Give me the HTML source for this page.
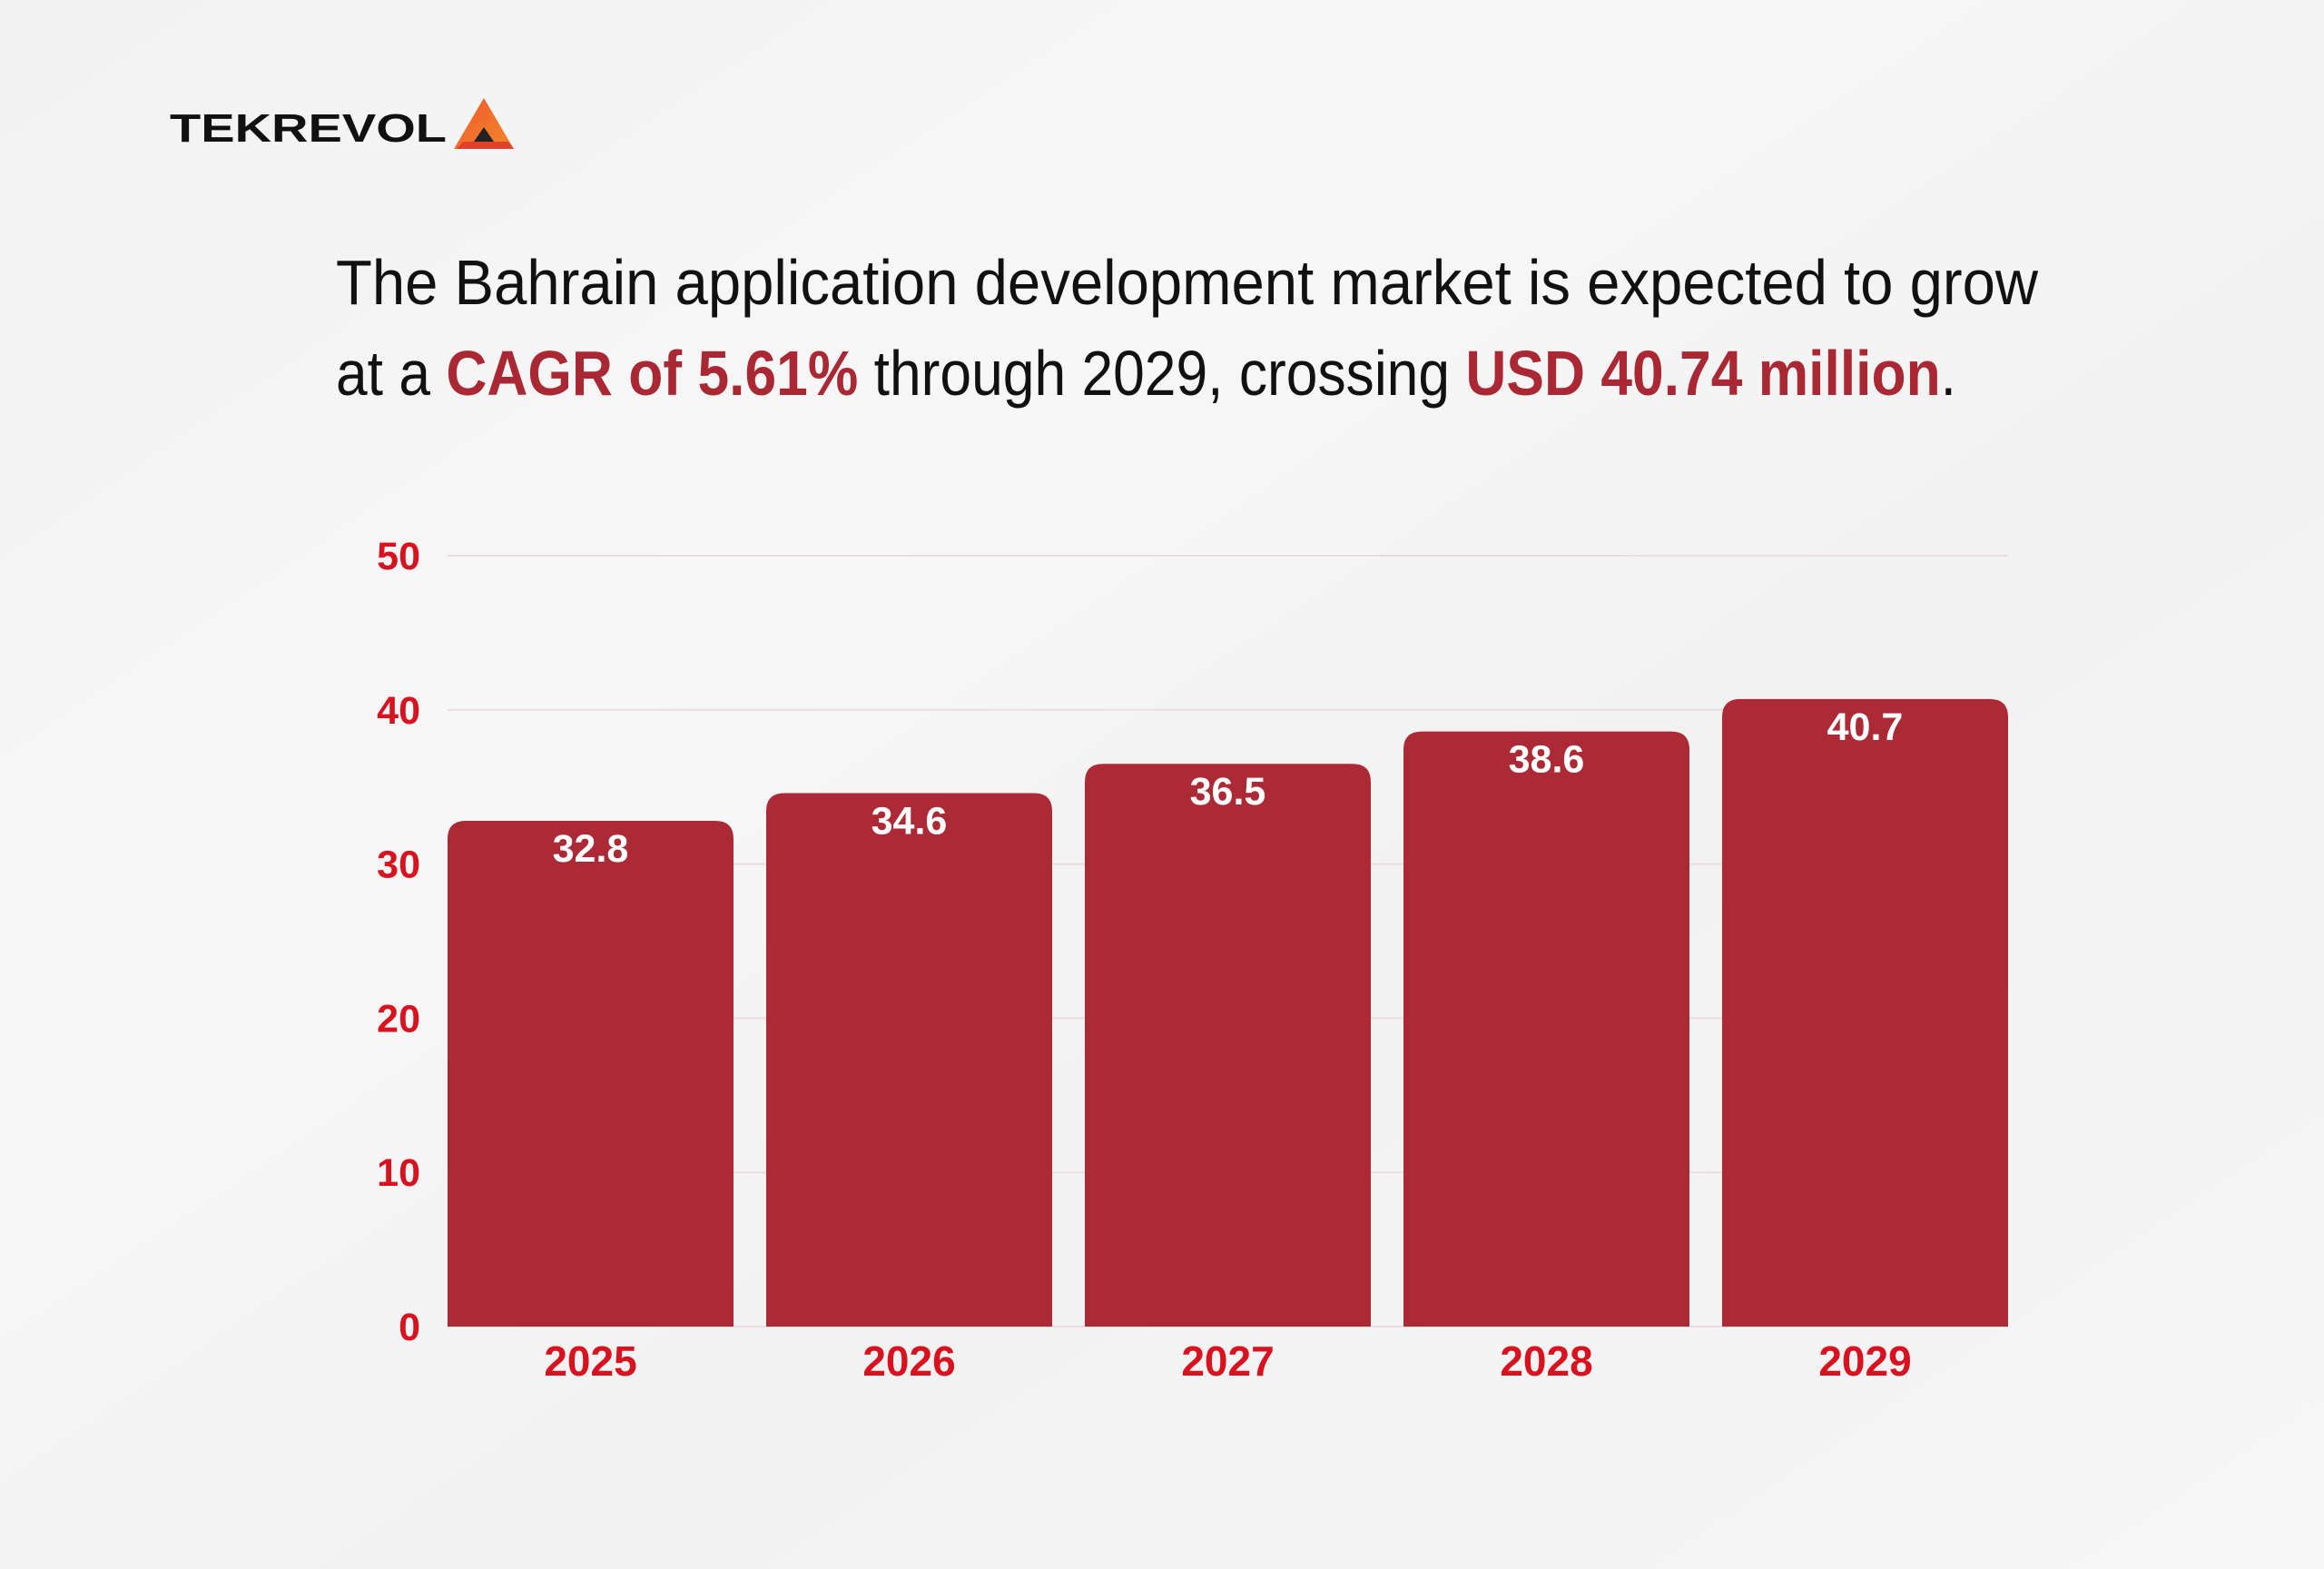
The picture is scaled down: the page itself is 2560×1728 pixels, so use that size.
<!DOCTYPE html>
<html><head><meta charset="utf-8"><style>
html,body{margin:0;padding:0;background:#f4f4f4;}
svg{display:block;}
</style></head><body>
<svg id="chart" width="2560" height="1728" viewBox="0 0 2560 1728" xmlns="http://www.w3.org/2000/svg">
<defs>
<linearGradient id="bg" x1="0" y1="0" x2="1" y2="1">
<stop offset="0" stop-color="#f2f2f2"/><stop offset="0.35" stop-color="#f7f7f7"/><stop offset="0.6" stop-color="#f2f2f2"/><stop offset="1" stop-color="#f6f6f6"/>
</linearGradient>
<linearGradient id="tri" x1="0" y1="0" x2="1" y2="1"><stop offset="0" stop-color="#f0562a"/><stop offset="1" stop-color="#f28a2e"/></linearGradient>
</defs>
<rect width="2560" height="1728" fill="url(#bg)"/>
<g>
<text x="187" y="156" font-family="Liberation Sans, sans-serif" font-weight="bold" font-size="44" fill="#111" textLength="305" lengthAdjust="spacingAndGlyphs">TEKREVOL</text>
<polygon points="533,108 500,164 566,164" fill="url(#tri)"/>
<polygon points="533,140 522,156 544,156" fill="#222"/>
<polygon points="503,164 566,164 560,156 510,156" fill="#e2402a"/>
</g>
<g font-family="Liberation Sans Narrow, Liberation Sans, sans-serif" font-size="70" fill="#111">
<text x="370" y="335" textLength="1875" lengthAdjust="spacingAndGlyphs">The Bahrain application development market is expected to grow</text>
<text x="370" y="435" textLength="1785" lengthAdjust="spacingAndGlyphs">at a <tspan font-weight="bold" fill="#a92834">CAGR of 5.61%</tspan> through 2029,  crossing <tspan font-weight="bold" fill="#a92834">USD 40.74 million</tspan>.</text>
</g>
<g id="grid"></g>
<g id="yticks"></g>
<g id="bars"></g>
<g id="xticks"></g>
</svg>
<script>
const categories = ["2025","2026","2027","2028","2029"];
const values = [32.8, 34.6, 36.5, 38.6, 40.7];
const valueLabels = ["32.8","34.6","36.5","38.6","40.7"];
const yTicks = [0,10,20,30,40,50];
const NS = "http://www.w3.org/2000/svg";
const plot = {left:493, right:2212, top:612, bottom:1461, yMax:50};
function yScale(v){ return plot.bottom - (v/plot.yMax)*(plot.bottom-plot.top); }
const pitch = (plot.right - plot.left + 36) / categories.length;
const barW = pitch - 36;
function xScale(i){ return plot.left + i*pitch; }
function mk(tag, attrs, parent){ const e=document.createElementNS(NS,tag); for(const k in attrs) e.setAttribute(k,attrs[k]); parent.appendChild(e); return e; }
const grid=document.getElementById('grid'), yt=document.getElementById('yticks'), bars=document.getElementById('bars'), xt=document.getElementById('xticks');
yTicks.forEach(t=>{
  const y=yScale(t);
  const l=mk('line',{x1:plot.left,x2:plot.right,y1:y,y2:y,stroke:'#ecdcdc','stroke-width':2},grid);
  
  
  const tx=mk('text',{x:463,y:y+15,'text-anchor':'end','font-family':'Liberation Sans, sans-serif','font-weight':'bold','font-size':43,fill:'#d9121f'},yt);
  tx.textContent=t;
  
  
});
categories.forEach((c,i)=>{
  const x=xScale(i), y=yScale(values[i]), r=20;
  const p=mk('path',{d:`M${x},${plot.bottom} V${y+r} Q${x},${y} ${x+r},${y} H${x+barW-r} Q${x+barW},${y} ${x+barW},${y+r} V${plot.bottom} Z`,fill:'#ab2a36'},bars);
  
  
  const vl=mk('text',{x:x+barW/2,y:y+45,'text-anchor':'middle','font-family':'Liberation Sans, sans-serif','font-weight':'bold','font-size':43,fill:'#fff'},bars);
  vl.textContent=valueLabels[i];
  
  
  const xl=mk('text',{x:x+barW/2,y:1515,'text-anchor':'middle','font-family':'Liberation Sans, sans-serif','font-weight':'bold','font-size':46,fill:'#d9121f'},xt);
  xl.textContent=c;
  
  
});
</script>
</body></html>
